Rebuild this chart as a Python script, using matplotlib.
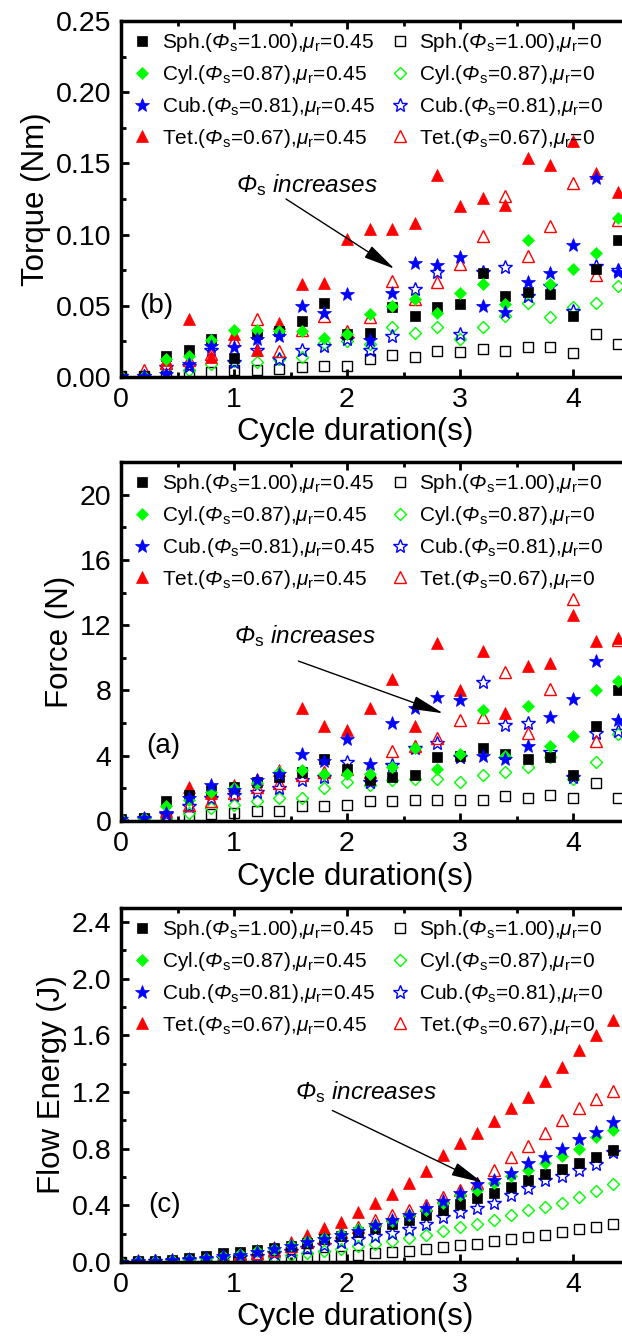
import matplotlib
matplotlib.use("Agg")
import matplotlib.pyplot as plt
from matplotlib.ticker import MultipleLocator, FormatStrFormatter

plt.rcParams['font.family'] = ['Liberation Sans', 'DejaVu Sans']
plt.rcParams['mathtext.fontset'] = 'custom'
plt.rcParams['mathtext.rm'] = 'Liberation Sans'
plt.rcParams['mathtext.it'] = 'Liberation Sans:italic'
# italic slot for the capital Greek Phi (the 'it' slot keeps capitals upright)
plt.rcParams['mathtext.sf'] = 'Liberation Sans:italic'

# sampling times for torque and force (s)
t_tf = [0.0, 0.2, 0.4, 0.6, 0.8, 1.0, 1.2, 1.4, 1.6, 1.8, 2.0, 2.2,
        2.4, 2.6, 2.8, 3.0, 3.2, 3.4, 3.6, 3.8, 4.0, 4.2, 4.4]
# sampling times for flow energy (s)
t_e = [0.0, 0.15, 0.3, 0.45, 0.6, 0.75, 0.9, 1.05, 1.2, 1.35, 1.5, 1.65,
       1.8, 1.95, 2.1, 2.25, 2.4, 2.55, 2.7, 2.85, 3.0, 3.15, 3.3, 3.45,
       3.6, 3.75, 3.9, 4.05, 4.2, 4.35]

# torque (Nm)
sph_b = [0.001, 0.001, 0.015, 0.019, 0.027, 0.0135, 0.030, 0.0325, 0.0395, 0.052, 0.030, 0.031,
         0.049, 0.043, 0.049, 0.051, 0.073, 0.057, 0.060, 0.058, 0.043, 0.0756, 0.096]
sph0_b = [0.001, 0.001, 0.001, 0.002, 0.0035, 0.0047, 0.005, 0.0058, 0.007, 0.008, 0.008, 0.0128,
          0.0156, 0.0144, 0.0186, 0.0174, 0.0198, 0.0186, 0.021, 0.021, 0.0167, 0.030, 0.023]
cyl_b = [0.001, 0.001, 0.013, 0.015, 0.026, 0.033, 0.033, 0.0325, 0.032, 0.0275, 0.030, 0.044,
         0.050, 0.055, 0.045, 0.059, 0.065, 0.051, 0.096, 0.065, 0.076, 0.087, 0.112]
cyl0_b = [0.001, 0.001, 0.006, 0.005, 0.009, 0.0115, 0.0105, 0.013, 0.014, 0.024, 0.0255, 0.023,
          0.035, 0.031, 0.035, 0.027, 0.035, 0.043, 0.052, 0.042, 0.049, 0.052, 0.064]
cub_b = [0.001, 0.001, 0.002, 0.009, 0.022, 0.021, 0.027, 0.029, 0.050, 0.045, 0.058, 0.026,
         0.059, 0.080, 0.079, 0.084, 0.050, 0.046, 0.067, 0.073, 0.093, 0.140, 0.074]
cub0_b = [0.001, 0.001, 0.007, 0.008, 0.019, 0.0105, 0.019, 0.0128, 0.019, 0.022, 0.027, 0.019,
          0.029, 0.062, 0.074, 0.030, 0.074, 0.077, 0.057, 0.064, 0.0465, 0.078, 0.075]
tet_b = [0.001, 0.001, 0.012, 0.041, 0.014, 0.030, 0.019, 0.038, 0.065, 0.066, 0.097, 0.104,
         0.104, 0.108, 0.1415, 0.120, 0.126, 0.1205, 0.1535, 0.149, 0.1655, 0.143, 0.130]
tet0_b = [0.001, 0.005, 0.010, 0.012, 0.016, 0.026, 0.041, 0.0185, 0.033, 0.043, 0.0325, 0.042,
          0.0675, 0.055, 0.067, 0.0795, 0.099, 0.127, 0.085, 0.106, 0.136, 0.0716, 0.110]

# force (N)
sph_a = [0.1, 0.2, 1.2, 1.6, 1.9, 2.1, 2.4, 2.7, 3.0, 3.8, 3.2, 2.5,
         2.7, 2.8, 3.9, 4.0, 4.5, 4.1, 3.8, 3.9, 2.8, 5.8, 8.0]
sph0_a = [0.0, 0.1, 0.1, 0.3, 0.4, 0.5, 0.6, 0.6, 0.9, 0.9, 1.0, 1.2,
          1.2, 1.3, 1.3, 1.3, 1.3, 1.5, 1.4, 1.6, 1.4, 2.3, 1.4]
cyl_a = [0.1, 0.2, 0.9, 1.3, 1.8, 2.0, 2.3, 3.0, 3.1, 2.9, 2.9, 2.9,
         3.3, 4.5, 3.2, 4.1, 6.8, 4.0, 7.05, 4.6, 5.2, 8.0, 8.6]
cyl0_a = [0.0, 0.1, 0.2, 0.5, 0.8, 1.0, 1.2, 1.4, 1.4, 2.0, 2.4, 2.2,
          2.5, 2.6, 2.6, 2.4, 2.8, 3.0, 3.3, 3.9, 2.6, 3.6, 5.3]
cub_a = [0.1, 0.2, 0.5, 1.4, 2.2, 1.9, 2.5, 2.9, 4.1, 3.7, 5.0, 3.5,
         6.0, 6.9, 7.6, 7.4, 4.0, 3.8, 4.6, 6.4, 7.5, 9.8, 6.2]
cub0_a = [0.0, 0.1, 0.4, 0.9, 1.4, 1.6, 1.8, 2.0, 2.5, 2.7, 3.6, 2.4,
          3.4, 4.5, 4.8, 3.9, 8.5, 5.9, 6.0, 4.2, 2.7, 5.4, 5.5]
tet_a = [0.1, 0.2, 0.6, 2.1, 1.7, 2.2, 2.6, 3.1, 6.9, 5.8, 5.6, 6.9,
         8.7, 5.8, 10.9, 8.0, 10.4, 6.6, 9.5, 9.7, 12.6, 11.0, 11.2]
tet0_a = [0.0, 0.1, 0.3, 1.0, 1.2, 1.7, 2.1, 2.3, 2.8, 3.0, 3.2, 3.0,
          4.3, 4.6, 5.1, 6.2, 6.4, 9.1, 5.4, 8.1, 13.6, 4.9, 11.1]

# flow energy (J)
sph_c = [0.002, 0.004, 0.008, 0.015, 0.03, 0.045, 0.06, 0.07, 0.085, 0.10, 0.115, 0.135, 0.16, 0.18, 0.21,
         0.24, 0.27, 0.30, 0.33, 0.37, 0.41, 0.45, 0.49, 0.53, 0.58, 0.62, 0.66, 0.70, 0.74, 0.79]
sph0_c = [0.0, 0.0, 0.001, 0.001, 0.002, 0.003, 0.005, 0.007, 0.010, 0.014, 0.019, 0.025, 0.032, 0.04, 0.05,
          0.06, 0.07, 0.08, 0.095, 0.105, 0.12, 0.13, 0.145, 0.16, 0.175, 0.19, 0.21, 0.23, 0.245, 0.27]
cyl_c = [0.002, 0.004, 0.007, 0.012, 0.02, 0.03, 0.04, 0.055, 0.075, 0.095, 0.12, 0.145, 0.17, 0.20, 0.23,
         0.26, 0.29, 0.33, 0.37, 0.42, 0.47, 0.51, 0.56, 0.61, 0.65, 0.70, 0.75, 0.80, 0.88, 0.935]
cyl0_c = [0.001, 0.001, 0.002, 0.003, 0.005, 0.009, 0.014, 0.02, 0.028, 0.038, 0.05, 0.065, 0.08, 0.095, 0.11,
          0.13, 0.15, 0.17, 0.19, 0.22, 0.245, 0.27, 0.30, 0.33, 0.37, 0.39, 0.42, 0.46, 0.50, 0.55]
cub_c = [0.002, 0.004, 0.008, 0.013, 0.02, 0.03, 0.04, 0.05, 0.07, 0.09, 0.11, 0.14, 0.165, 0.19, 0.22,
         0.26, 0.30, 0.33, 0.38, 0.43, 0.49, 0.55, 0.58, 0.63, 0.70, 0.74, 0.80, 0.87, 0.92, 0.99]
cub0_c = [0.001, 0.002, 0.004, 0.007, 0.012, 0.018, 0.025, 0.035, 0.045, 0.06, 0.08, 0.10, 0.12, 0.14, 0.165,
          0.18, 0.205, 0.235, 0.27, 0.32, 0.35, 0.38, 0.42, 0.47, 0.52, 0.58, 0.61, 0.65, 0.69, 0.78]
tet_c = [0.003, 0.005, 0.01, 0.015, 0.02, 0.033, 0.038, 0.062, 0.085, 0.105, 0.143, 0.19, 0.24, 0.285, 0.35,
         0.415, 0.48, 0.56, 0.645, 0.755, 0.84, 0.913, 0.997, 1.085, 1.165, 1.28, 1.38, 1.50, 1.60, 1.71]
tet0_c = [0.0, 0.001, 0.003, 0.007, 0.013, 0.022, 0.034, 0.048, 0.065, 0.085, 0.11, 0.14, 0.17, 0.21, 0.25,
          0.30, 0.33, 0.37, 0.40, 0.46, 0.51, 0.56, 0.65, 0.74, 0.82, 0.91, 1.0, 1.085, 1.15, 1.21]

PHI = r'$\mathsf{Φ}_\mathrm{s}$'
MU = r'$\mu_\mathrm{r}$'
labels = ['Sph.(' + PHI + '=1.00),' + MU + '=0.45',
          'Cyl.(' + PHI + '=0.87),' + MU + '=0.45',
          'Cub.(' + PHI + '=0.81),' + MU + '=0.45',
          'Tet.(' + PHI + '=0.67),' + MU + '=0.45',
          'Sph.(' + PHI + '=1.00),' + MU + '=0',
          'Cyl.(' + PHI + '=0.87),' + MU + '=0',
          'Cub.(' + PHI + '=0.81),' + MU + '=0',
          'Tet.(' + PHI + '=0.67),' + MU + '=0']
colors = ['#000000', '#00ff00', '#0000ff', '#ff0000']
markers = ['s', 'D', '*', '^']
msizes = [6.5, 6.5, 10, 8.5]


def draw_panel(ax, t, filled, hollow, ylim, ymajor, fmt, ylabel, tag, tagpos, txtpos, arr0, arr1):
    handles = [None] * 8
    for i in range(4):
        h, = ax.plot(t, hollow[i], ls='none', marker=markers[i], ms=msizes[i],
                     mfc='none', mec=colors[i], mew=1.0)
        handles[4 + i] = h
    for i in [3, 0, 1, 2]:
        h, = ax.plot(t, filled[i], ls='none', marker=markers[i], ms=msizes[i],
                     mfc=colors[i], mec=colors[i], mew=0.5)
        handles[i] = h
    ax.set_xlim(0, 4.5)
    ax.set_ylim(*ylim)
    ax.xaxis.set_major_locator(MultipleLocator(1))
    ax.xaxis.set_minor_locator(MultipleLocator(0.5))
    ax.yaxis.set_major_locator(MultipleLocator(ymajor))
    ax.yaxis.set_minor_locator(MultipleLocator(ymajor / 2))
    ax.yaxis.set_major_formatter(FormatStrFormatter(fmt))
    ax.tick_params(which='both', direction='in', top=True, right=True, width=2,
                   labelsize=20.5, pad=7)
    ax.tick_params(which='major', length=6)
    ax.tick_params(which='minor', length=3.5)
    for s in ax.spines.values():
        s.set_linewidth(2.5)
    ax.set_xlabel('Cycle duration(s)', fontsize=22.5)
    ax.xaxis.set_label_coords(0.46, -0.113)
    ax.set_ylabel(ylabel, fontsize=22.5, labelpad=3)
    ax.legend(handles, labels, ncol=2, loc='upper left', frameon=False, fontsize=15,
              handletextpad=0.45, columnspacing=0.7, labelspacing=0.42,
              borderaxespad=0.1, handlelength=1.0, numpoints=1)
    ax.text(tagpos[0], tagpos[1], tag, fontsize=20, va='center', ha='left')
    ax.text(txtpos[0], txtpos[1], PHI + ' increases', fontsize=17.5,
            style='italic', va='center', ha='left')
    ax.annotate('', xy=arr1, xytext=arr0,
                arrowprops=dict(arrowstyle='-|>,head_length=1.4,head_width=0.3',
                                color='black', lw=1.0, mutation_scale=14, shrinkA=0, shrinkB=0))


fig = plt.figure(figsize=(6.22, 13.36), dpi=100)
left = 121 / 622
width = 4.5 * 113 / 622
ax_b = fig.add_axes([left, 0.7178, width, 0.2665])
ax_a = fig.add_axes([left, 0.3855, width, 0.2687])
ax_c = fig.add_axes([left, 0.0554, width, 0.2650])

draw_panel(ax_b, t_tf, [sph_b, cyl_b, cub_b, tet_b], [sph0_b, cyl0_b, cub0_b, tet0_b],
           (0, 0.25), 0.05, '%.2f', 'Torque (Nm)', '(b)', (0.16, 0.05),
           (1.02, 0.135), (1.46, 0.125), (2.42, 0.076))
draw_panel(ax_a, t_tf, [sph_a, cyl_a, cub_a, tet_a], [sph0_a, cyl0_a, cub0_a, tet0_a],
           (0, 22), 4, '%d', 'Force (N)', '(a)', (0.22, 4.6),
           (1.0, 11.35), (1.57, 9.8), (2.85, 6.6))
draw_panel(ax_c, t_e, [sph_c, cyl_c, cub_c, tet_c], [sph0_c, cyl0_c, cub0_c, tet0_c],
           (0, 2.5), 0.4, '%.1f', 'Flow Energy (J)', '(c)', (0.24, 0.4),
           (1.54, 1.2), (1.87, 1.07), (3.2, 0.56))

fig.savefig('out.png', dpi=100)
